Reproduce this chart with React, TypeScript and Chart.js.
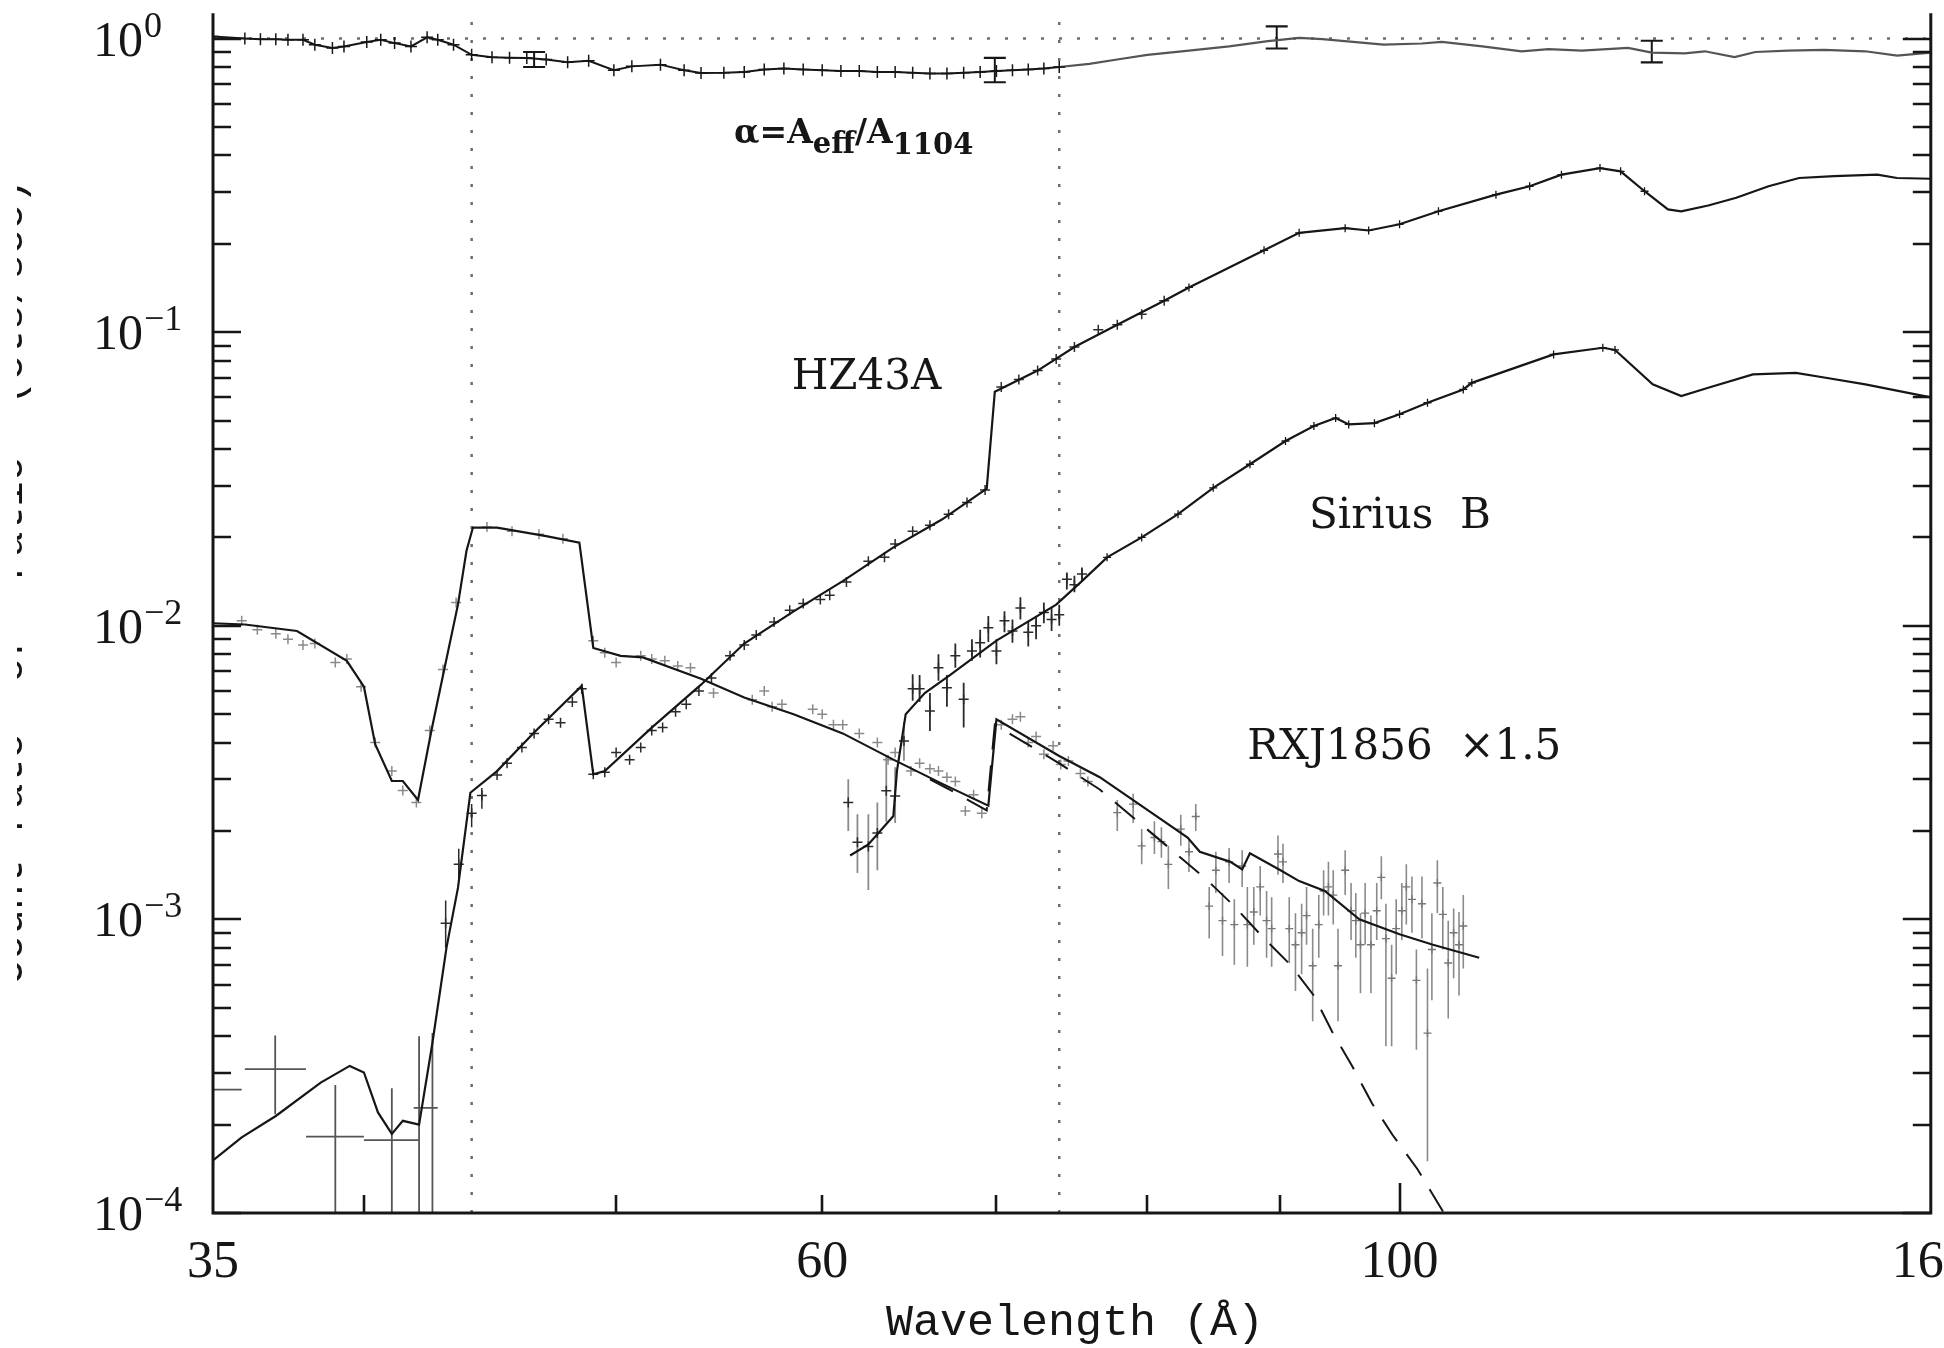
import React, { useEffect, useRef } from "react";
import { Chart, registerables } from "chart.js";

Chart.register(...registerables);

// ---------------- axes ----------------
const X_MIN = 35;
const X_MAX = 160;
const Y_MIN = 1e-4;
const Y_MAX = 1.22;
const xTickLabels = [35, 60, 100, 160];
const xShortTicks = [40, 50, 60, 70, 80, 90];
const xLongTicks = [100];
const yDecades = [1e-4, 1e-3, 1e-2, 1e-1, 1];
const yExponents = ["\u22124", "\u22123", "\u22122", "\u22121", "0"];
const refLinesX = [44, 74];
const unityY = 1;
const X_TITLE = "Wavelength (\u00C5)";
const Y_TITLE = "Count rate  or  ratio  (cts/sec)";

// ---------------- alpha = Aeff / A1104 ----------------
const alphaBinX = [35, 36.0, 36.5, 37.0, 37.4, 37.9, 38.3, 38.9, 39.3, 40.1, 40.6, 41.1, 41.7, 42.3, 42.7, 43.3, 44.0, 44.8, 45.5, 46.2, 47.0, 47.9, 48.8, 49.9, 50.7, 52.0, 53.1, 53.9, 55, 56, 57, 58, 59, 60, 61, 62, 63, 64, 65, 66, 67, 68, 69, 70, 71, 72, 73, 74];
const alphaBinY = [1.017, 1.0, 0.995, 0.995, 0.99, 0.99, 0.953, 0.929, 0.94, 0.973, 0.99, 0.965, 0.94, 1.01, 0.99, 0.953, 0.88, 0.863, 0.86, 0.858, 0.848, 0.83, 0.84, 0.78, 0.804, 0.815, 0.78, 0.763, 0.765, 0.77, 0.785, 0.79, 0.785, 0.78, 0.775, 0.775, 0.77, 0.77, 0.765, 0.76, 0.76, 0.765, 0.77, 0.775, 0.78, 0.785, 0.79, 0.80];
const alphaSmoothX = [74, 76, 78, 80, 83, 86, 89, 91.5, 93.4, 95.5, 98.6, 102, 103.8, 107.6, 111.4, 114.1, 117.5, 122.4, 125, 128.7, 131, 134.5, 137, 141, 145.6, 151, 155.3, 160];
const alphaSmoothY = [0.80, 0.82, 0.85, 0.88, 0.91, 0.94, 0.98, 1.005, 0.995, 0.978, 0.953, 0.962, 0.975, 0.94, 0.905, 0.92, 0.91, 0.929, 0.895, 0.89, 0.905, 0.865, 0.90, 0.91, 0.915, 0.905, 0.875, 0.895];
const alphaErrX = [46.5, 69.9, 89.7, 125.0];
const alphaErrLo = [0.80, 0.71, 0.925, 0.83];
const alphaErrHi = [0.90, 0.86, 1.10, 0.983];

// ---------------- HZ43A ----------------
const hzModelX = [35, 35.9, 37.0, 38.5, 39.5, 40.0, 40.5, 41.0, 41.4, 42.0, 42.5, 43.03, 43.47, 43.95, 45.0, 46.5, 48.5, 49.0, 49.5, 51.6, 53.9, 56.0, 58.5, 61.1, 63.9, 66.7, 69.4, 69.9, 72.6, 75.0, 77.9, 81.2, 83.0, 88.7, 91.5, 95.3, 97.3, 100, 103.5, 108.9, 112.2, 115.4, 119.4, 121.6, 124.2, 126.8, 128.3, 131.4, 134.7, 138.6, 142.4, 146.9, 152.6, 155.3, 160];
const hzModelY = [1.51e-4, 1.81e-4, 2.14e-4, 2.78e-4, 3.17e-4, 3.01e-4, 2.2e-4, 1.86e-4, 2.06e-4, 2.0e-4, 3.8e-4, 8.0e-4, 1.28e-3, 2.7e-3, 3.2e-3, 4.33e-3, 6.24e-3, 3.12e-3, 3.2e-3, 4.5e-3, 6.3e-3, 8.7e-3, 1.12e-2, 1.42e-2, 1.85e-2, 2.3e-2, 2.93e-2, 6.27e-2, 7.4e-2, 8.9e-2, 0.106, 0.128, 0.142, 0.19, 0.218, 0.226, 0.222, 0.233, 0.258, 0.294, 0.314, 0.344, 0.362, 0.353, 0.302, 0.262, 0.258, 0.27, 0.287, 0.314, 0.335, 0.34, 0.344, 0.335, 0.333];
const hzDataX = [43.0, 43.5, 44.0, 44.4, 45.0, 45.4, 46.0, 46.5, 47.1, 47.6, 48.1, 48.5, 49.0, 49.5, 50.0, 50.6, 51.1, 51.6, 52.1, 52.7, 53.2, 53.8, 54.4, 55.3, 56.0, 56.6, 57.5, 58.3, 59.0, 59.9, 60.4, 61.3, 62.5, 63.4, 64.0, 65.0, 66.0, 67.1, 68.2, 69.3, 70.3, 71.4, 72.6, 73.8, 75.0, 76.6, 77.9, 79.6, 81.2];
const hzDataY = [9.7e-4, 1.54e-3, 2.3e-3, 2.64e-3, 3.1e-3, 3.4e-3, 3.85e-3, 4.3e-3, 4.8e-3, 4.67e-3, 5.5e-3, 6.1e-3, 3.12e-3, 3.17e-3, 3.7e-3, 3.5e-3, 3.85e-3, 4.4e-3, 4.5e-3, 5.1e-3, 5.4e-3, 6.0e-3, 6.64e-3, 7.9e-3, 8.6e-3, 9.3e-3, 1.03e-2, 1.13e-2, 1.19e-2, 1.23e-2, 1.27e-2, 1.41e-2, 1.66e-2, 1.71e-2, 1.9e-2, 2.1e-2, 2.2e-2, 2.4e-2, 2.63e-2, 2.9e-2, 6.5e-2, 6.9e-2, 7.4e-2, 8.1e-2, 8.9e-2, 0.102, 0.106, 0.115, 0.128];
const hzBarX = [43.0, 43.5, 44.0, 44.4];
const hzBarLo = [8.0e-4, 1.37e-3, 2.06e-3, 2.38e-3];
const hzBarHi = [1.16e-3, 1.74e-3, 2.47e-3, 2.8e-3];
const lowBinX = [35.45, 36.98, 39.0, 41.0, 42.0, 42.5];
const lowBinY = [2.63e-4, 3.09e-4, 1.82e-4, 1.77e-4, 2.0e-4, 2.28e-4];
const lowBinXLo = [35.0, 36.0, 38.0, 40.0, 42.0, 41.8];
const lowBinXHi = [35.9, 38.0, 40.0, 42.0, 42.0, 42.7];
const lowBinYLo = [2.63e-4, 2.17e-4, 1e-4, 1e-4, 1e-4, 1e-4];
const lowBinYHi = [2.63e-4, 4.02e-4, 2.73e-4, 2.66e-4, 4.0e-4, 4.1e-4];

// ---------------- Sirius B ----------------
const sbModelX = [61.5, 62.5, 63.9, 64.1, 64.6, 65.7, 67.2, 70.0, 73.8, 75.5, 77.2, 79.6, 82.2, 84.8, 87.6, 90.4, 92.7, 94.5, 95.6, 97.8, 100, 102.5, 105.8, 106.6, 114.6, 119.7, 121, 125.1, 128.3, 131.4, 136.7, 142, 145.6, 151, 160];
const sbModelY = [1.65e-3, 1.8e-3, 2.25e-3, 3.2e-3, 5.0e-3, 5.9e-3, 6.8e-3, 8.9e-3, 1.18e-2, 1.42e-2, 1.71e-2, 2.0e-2, 2.4e-2, 2.95e-2, 3.55e-2, 4.26e-2, 4.79e-2, 5.1e-2, 4.85e-2, 4.9e-2, 5.25e-2, 5.75e-2, 6.38e-2, 6.72e-2, 8.4e-2, 8.85e-2, 8.7e-2, 6.64e-2, 6.06e-2, 6.47e-2, 7.18e-2, 7.27e-2, 7.01e-2, 6.64e-2, 6.0e-2];
const sbDataX = [61.4, 61.9, 62.5, 63.0, 63.5, 64.0, 64.5, 65.0, 65.4, 66.0, 66.5, 67.0, 67.5, 68.0, 68.5, 69.0, 69.5, 70.0, 70.5, 71.0, 71.5, 72.0, 72.5, 73.0, 73.5, 74.0, 74.5, 75.0, 75.5];
const sbDataY = [2.5e-3, 1.83e-3, 1.77e-3, 1.97e-3, 2.74e-3, 2.63e-3, 4.05e-3, 6.1e-3, 6.1e-3, 5.13e-3, 7.2e-3, 6.15e-3, 7.9e-3, 5.62e-3, 8.2e-3, 8.75e-3, 9.85e-3, 8.2e-3, 1.04e-2, 9.6e-3, 1.15e-2, 9.5e-3, 1.0e-2, 1.11e-2, 1.05e-2, 1.09e-2, 1.44e-2, 1.38e-2, 1.5e-2];
const sbDataLo = [2.0e-3, 1.44e-3, 1.26e-3, 1.47e-3, 2.15e-3, 2.13e-3, 3.47e-3, 5.55e-3, 5.5e-3, 4.38e-3, 6.5e-3, 5.3e-3, 7.2e-3, 4.5e-3, 7.6e-3, 7.8e-3, 8.8e-3, 7.4e-3, 9.5e-3, 8.75e-3, 1.05e-2, 8.5e-3, 9.0e-3, 1.02e-2, 9.6e-3, 1.0e-2, 1.33e-2, 1.30e-2, 1.42e-2];
const sbDataHi = [3.0e-3, 2.28e-3, 2.28e-3, 2.5e-3, 3.6e-3, 3.3e-3, 4.7e-3, 6.84e-3, 6.8e-3, 5.9e-3, 8.0e-3, 6.8e-3, 8.7e-3, 6.4e-3, 9.0e-3, 9.7e-3, 1.08e-2, 9.0e-3, 1.12e-2, 1.05e-2, 1.25e-2, 1.04e-2, 1.08e-2, 1.2e-2, 1.15e-2, 1.18e-2, 1.52e-2, 1.48e-2, 1.58e-2];

// ---------------- RXJ1856 x1.5 ----------------
const rxModelX = [35, 36.0, 37.7, 39.4, 40.0, 40.4, 41.0, 41.4, 41.96, 42.46, 42.96, 43.47, 43.8, 44.05, 45.0, 47.0, 48.4, 49.0, 50.2, 51.2, 53.9, 56.0, 58.5, 61.1, 63.9, 66.7, 69.5, 70.0, 74.0, 76.7, 82.9, 83.8, 86.1, 87.0, 87.6, 90.0, 91.5, 93.6, 96.5, 100, 103, 107.3];
const rxModelY = [0.0102, 0.0101, 0.0096, 0.0076, 0.0062, 0.00395, 0.00296, 0.00296, 0.00255, 0.00439, 0.0072, 0.0118, 0.018, 0.0216, 0.0216, 0.0202, 0.0192, 0.0084, 0.0079, 0.0078, 0.0066, 0.0057, 0.005, 0.0043, 0.0035, 0.0029, 0.00244, 0.0048, 0.0036, 0.00305, 0.0019, 0.0017, 0.00157, 0.00148, 0.00168, 0.00147, 0.00135, 0.00125, 0.001, 0.00089, 0.00082, 0.00074];
const rxDashX = [66.0, 67.5, 69.4, 69.9, 74.0, 76.7, 79.6, 84.2, 86.3, 88.5, 90.8, 92.7, 94.2, 95.9, 97.6, 99.4, 101.6, 104.0];
const rxDashY = [0.0030, 0.0027, 0.00235, 0.0046, 0.0034, 0.00277, 0.0021, 0.00138, 0.00112, 0.00088, 0.0007, 0.00055, 0.000415, 0.000316, 0.000236, 0.000184, 0.000141, 0.0001];
const rxPtX = [35.9, 36.4, 37.0, 37.4, 37.9, 38.3, 39.0, 39.4, 39.9, 40.4, 41.0, 41.4, 41.9, 42.4, 42.9, 43.4, 44.6, 45.6, 46.7, 47.7, 49.0, 49.5, 50.0, 51.1, 51.6, 52.2, 52.8, 53.4, 54.5, 56.4, 57.0, 57.4, 57.9, 59.5, 60.0, 60.6, 61.1, 62.0, 63.0, 63.6, 64.0, 64.9, 65.4, 66.0, 66.5, 67.0, 67.5, 68.1, 68.6, 69.1, 70.3, 71.0, 71.5, 72.0, 72.5, 73.0, 73.6, 74.1, 74.6, 75.4, 75.9];
const rxPtY = [0.0104, 0.0097, 0.0094, 0.009, 0.0086, 0.0087, 0.0075, 0.0077, 0.0062, 0.004, 0.0032, 0.00275, 0.0025, 0.0044, 0.0071, 0.012, 0.0217, 0.021, 0.0205, 0.0198, 0.0089, 0.0081, 0.0075, 0.0079, 0.0077, 0.0076, 0.0073, 0.0072, 0.0059, 0.0056, 0.006, 0.0053, 0.0054, 0.0052, 0.005, 0.0046, 0.0046, 0.0043, 0.004, 0.0035, 0.0037, 0.0032, 0.0034, 0.00326, 0.0032, 0.00305, 0.00295, 0.00234, 0.00266, 0.0023, 0.0046, 0.0048, 0.0049, 0.004, 0.0042, 0.00365, 0.0039, 0.00337, 0.00346, 0.00314, 0.00295];
const rxBarX = [77.9, 79.0, 79.6, 80.5, 81.0, 81.5, 82.4, 83.0, 83.5, 84.5, 85.0, 85.5, 86.0, 86.4, 87.0, 87.4, 87.9, 88.4, 88.9, 89.3, 89.8, 90.2, 90.7, 91.2, 91.7, 92.1, 92.6, 93.1, 93.5, 93.9, 94.3, 94.7, 95.3, 95.8, 96.2, 96.6, 97.0, 97.5, 98.0, 98.4, 98.8, 99.3, 99.7, 100.2, 100.6, 101.1, 101.5, 102.0, 102.5, 102.9, 103.4, 103.9, 104.4, 104.9, 105.4, 105.8];
const rxBarY = [2.31e-3, 2.47e-3, 1.78e-3, 1.9e-3, 1.84e-3, 1.54e-3, 2.03e-3, 1.7e-3, 2.24e-3, 1.11e-3, 1.47e-3, 9.9e-4, 1.57e-3, 9.6e-4, 1.52e-3, 9.6e-4, 1.06e-3, 1.29e-3, 9.9e-4, 9.3e-4, 1.67e-3, 1.57e-3, 9.3e-4, 8.2e-4, 9.0e-4, 1.03e-3, 6.95e-4, 9.6e-4, 1.25e-3, 1.29e-3, 1.21e-3, 6.95e-4, 1.47e-3, 1.07e-3, 9.9e-4, 8.2e-4, 1.05e-3, 8.2e-4, 1.07e-3, 1.39e-3, 8.6e-4, 6.3e-4, 9.3e-4, 1.07e-3, 1.29e-3, 1.17e-3, 6.2e-4, 1.13e-3, 4.1e-4, 7.9e-4, 1.33e-3, 1.04e-3, 7.1e-4, 9.0e-4, 8.2e-4, 9.5e-4];
const rxBarLo = [2.0e-3, 2.13e-3, 1.54e-3, 1.67e-3, 1.62e-3, 1.27e-3, 1.78e-3, 1.45e-3, 2.0e-3, 8.6e-4, 1.23e-3, 7.5e-4, 1.33e-3, 7.0e-4, 1.29e-3, 6.9e-4, 8.2e-4, 1.03e-3, 7.4e-4, 6.9e-4, 1.42e-3, 1.33e-3, 7.1e-4, 5.7e-4, 6.5e-4, 8.2e-4, 4.5e-4, 7.4e-4, 1.03e-3, 1.03e-3, 9.6e-4, 4.5e-4, 1.21e-3, 8.5e-4, 7.4e-4, 5.6e-4, 8.2e-4, 5.6e-4, 8.5e-4, 1.17e-3, 3.7e-4, 3.7e-4, 6.5e-4, 8.5e-4, 9.6e-4, 9.0e-4, 3.6e-4, 8.6e-4, 1.5e-4, 5.3e-4, 1.05e-3, 7.9e-4, 4.6e-4, 6.3e-4, 5.5e-4, 6.8e-4];
const rxBarHi = [2.55e-3, 2.68e-3, 2.03e-3, 2.16e-3, 2.06e-3, 1.78e-3, 2.27e-3, 1.87e-3, 2.47e-3, 1.29e-3, 1.70e-3, 1.23e-3, 1.75e-3, 1.17e-3, 1.72e-3, 1.29e-3, 1.29e-3, 1.52e-3, 1.25e-3, 1.19e-3, 1.93e-3, 1.81e-3, 1.19e-3, 1.05e-3, 1.13e-3, 1.29e-3, 9.3e-4, 1.21e-3, 1.47e-3, 1.57e-3, 1.47e-3, 9.3e-4, 1.72e-3, 1.33e-3, 1.23e-3, 1.05e-3, 1.33e-3, 1.03e-3, 1.33e-3, 1.64e-3, 1.13e-3, 8.2e-4, 1.17e-3, 1.33e-3, 1.54e-3, 1.40e-3, 7.9e-4, 1.40e-3, 6.8e-4, 1.05e-3, 1.59e-3, 1.29e-3, 9.9e-4, 1.09e-3, 1.06e-3, 1.21e-3];

// ---------------- helpers ----------------
type P = { x: number; y: number | null };
const pts = (xs: number[], ys: number[]): P[] => xs.map((x, i) => ({ x, y: ys[i] }));
const vbars = (xs: number[], lo: number[], hi: number[]): P[] =>
  xs.flatMap((x, i) => [{ x, y: lo[i] }, { x, y: hi[i] }, { x, y: null }]);
const hbars = (xlo: number[], xhi: number[], ys: number[]): P[] =>
  xlo.flatMap((x, i) => [{ x, y: ys[i] }, { x: xhi[i], y: ys[i] }, { x, y: null }]);

const BLACK = "#161616";
const DARK = "#2a2a2a";
const GRAY = "#8a8a8a";

const lineDs = (data: P[], color: string, width: number, extra: any = {}) => ({
  data,
  borderColor: color,
  borderWidth: width,
  pointRadius: 0,
  pointHoverRadius: 0,
  pointHitRadius: 0,
  fill: false,
  tension: 0,
  spanGaps: false,
  ...extra,
});
const crossDs = (data: P[], color: string, r: number, w: number) => ({
  data,
  showLine: false,
  pointStyle: "cross",
  pointRadius: r,
  pointHoverRadius: 0,
  pointHitRadius: 0,
  pointBorderColor: color,
  pointBorderWidth: w,
  borderColor: color,
});

function buildDatasets() {
  return [
    // models (top)
    lineDs(pts(hzModelX, hzModelY), BLACK, 2.2, {
      pointStyle: "cross",
      pointBorderColor: BLACK,
      pointBorderWidth: 1.3,
      pointRadius: (c: any) => (c.raw && c.raw.x > 82 && c.raw.x < 125 ? 4 : 0),
    }),
    lineDs(pts(sbModelX, sbModelY), BLACK, 2.2, {
      pointStyle: "cross",
      pointBorderColor: BLACK,
      pointBorderWidth: 1.3,
      pointRadius: (c: any) => (c.raw && c.raw.x > 76 && c.raw.x < 125 ? 4 : 0),
    }),
    lineDs(pts(rxModelX, rxModelY), BLACK, 2.2),
    lineDs(pts(rxDashX, rxDashY), BLACK, 2, { borderDash: [26, 16] }),
    // alpha
    lineDs(pts(alphaBinX, alphaBinY), BLACK, 2, {
      pointStyle: "cross",
      pointRadius: 6,
      pointBorderColor: BLACK,
      pointBorderWidth: 1.5,
    }),
    lineDs(pts(alphaSmoothX, alphaSmoothY), "#555", 2.2),
    lineDs(vbars(alphaErrX, alphaErrLo, alphaErrHi), BLACK, 2, {
      pointStyle: "line",
      pointRadius: 11,
      pointBorderColor: BLACK,
      pointBorderWidth: 2.2,
    }),
    // data
    crossDs(pts(hzDataX, hzDataY), DARK, 5, 1.5),
    lineDs(vbars(hzBarX, hzBarLo, hzBarHi), DARK, 1.5),
    lineDs(vbars(lowBinX, lowBinYLo, lowBinYHi), "#555", 1.8),
    lineDs(hbars(lowBinXLo, lowBinXHi, lowBinY), "#555", 1.8),
    crossDs(pts(sbDataX, sbDataY), DARK, 5, 1.5),
    lineDs(vbars(sbDataX, sbDataLo, sbDataHi), DARK, 1.8, {
      segment: { borderColor: (c: any) => (c.p0.parsed.x < 64.7 ? GRAY : DARK) },
    }),
    crossDs(pts(rxPtX, rxPtY), GRAY, 5, 1.5),
    crossDs(pts(rxBarX, rxBarY), "#777", 4, 1.4),
    lineDs(vbars(rxBarX, rxBarLo, rxBarHi), GRAY, 1.6),
    // reference dotted lines
    ...refLinesX.map((v) =>
      lineDs(pts([v, v], [Y_MIN, Y_MAX]), "#6e6e6e", 2.5, { borderDash: [3, 15] })
    ),
    lineDs(pts([X_MIN, X_MAX], [unityY, unityY]), "#6e6e6e", 2.5, { borderDash: [3, 15] }),
  ];
}

const frame = {
  id: "pgFrame",
  afterDraw(chart: any) {
    const { ctx, chartArea: a, scales } = chart;
    const x = scales.x;
    const y = scales.y;
    ctx.save();
    // frame lines
    ctx.strokeStyle = BLACK;
    ctx.lineWidth = 3;
    ctx.lineCap = "butt";
    ctx.beginPath();
    ctx.moveTo(a.left, a.top);
    ctx.lineTo(a.left, a.bottom);
    ctx.lineTo(a.right, a.bottom);
    ctx.lineTo(a.right, a.top);
    ctx.stroke();
    // y ticks (both sides, inward)
    ctx.lineWidth = 2.6;
    ctx.beginPath();
    for (const d of yDecades) {
      for (let m = 1; m < 10; m++) {
        const v = d * m;
        if (v > Y_MAX) break;
        const py = Math.round(y.getPixelForValue(v));
        const len = m === 1 ? 28 : 18;
        ctx.moveTo(a.left, py);
        ctx.lineTo(a.left + len, py);
        ctx.moveTo(a.right, py);
        ctx.lineTo(a.right - len, py);
      }
    }
    // x ticks
    for (const v of xShortTicks) {
      const px = Math.round(x.getPixelForValue(v));
      ctx.moveTo(px, a.bottom);
      ctx.lineTo(px, a.bottom - 18);
    }
    for (const v of xLongTicks) {
      const px = Math.round(x.getPixelForValue(v));
      ctx.moveTo(px, a.bottom);
      ctx.lineTo(px, a.bottom - 30);
    }
    ctx.stroke();

    // tick labels
    ctx.fillStyle = BLACK;
    ctx.textBaseline = "alphabetic";
    ctx.textAlign = "left";
    yDecades.forEach((v, i) => {
      const py = y.getPixelForValue(v);
      ctx.font = '50px "Liberation Serif"';
      ctx.fillText("10", 93, py + 17);
      const w = ctx.measureText("10").width;
      ctx.font = '36px "Liberation Serif"';
      ctx.fillText(yExponents[i], 93 + w + 1, py - 2);
    });
    ctx.textAlign = "center";
    ctx.font = '52px "Liberation Serif"';
    for (const v of xTickLabels) {
      ctx.fillText(String(v), x.getPixelForValue(v), a.bottom + 64);
    }
    // axis title
    ctx.font = '45px "Liberation Mono"';
    ctx.fillText(X_TITLE, 1075, 1335);

    // clipped y title (only its outer edge is visible, as in the cropped original)
    ctx.save();
    ctx.beginPath();
    ctx.rect(17, 0, 30, chart.height);
    ctx.clip();
    ctx.translate(22, 582);
    ctx.rotate(-Math.PI / 2);
    ctx.font = '42px "Liberation Mono"';
    ctx.textAlign = "center";
    ctx.fillText(Y_TITLE, 0, 0);
    ctx.restore();

    // annotations
    ctx.textAlign = "left";
    ctx.font = '42px "DejaVu Serif"';
    ctx.fillText("HZ43A", x.getPixelForValue(58.4), y.getPixelForValue(0.0638));
    ctx.fillText("Sirius  B", x.getPixelForValue(92.3), y.getPixelForValue(0.0215));
    ctx.fillText("RXJ1856  \u00D71.5", x.getPixelForValue(87.4), y.getPixelForValue(3.51e-3));

    // alpha label with subscripts
    let cx = x.getPixelForValue(55.5);
    const by = y.getPixelForValue(0.44);
    const seg = (t: string, f: string, dy: number) => {
      ctx.font = f;
      ctx.fillText(t, cx, by + dy);
      cx += ctx.measureText(t).width;
    };
    seg("\u03B1=A", 'bold 33px "DejaVu Serif"', 0);
    seg("eff", 'bold 29px "DejaVu Serif"', 10);
    seg("/A", 'bold 33px "DejaVu Serif"', 0);
    seg("1104", 'bold 29px "DejaVu Serif"', 11);
    ctx.restore();
  },
};

export default function App() {
  const ref = useRef<HTMLCanvasElement | null>(null);
  useEffect(() => {
    if (!ref.current) return;
    const chart = new Chart(ref.current, {
      type: "line",
      data: { datasets: buildDatasets() as any },
      options: {
        animation: false,
        responsive: false,
        devicePixelRatio: 1,
        events: [],
        layout: { padding: { left: 213, right: 12, top: 12, bottom: 135 } },
        plugins: { legend: { display: false }, tooltip: { enabled: false } },
        scales: {
          x: { type: "logarithmic", min: X_MIN, max: X_MAX, display: false },
          y: { type: "logarithmic", min: Y_MIN, max: Y_MAX, display: false },
        },
      } as any,
      plugins: [frame],
    });
    return () => chart.destroy();
  }, []);
  return (
    <div style={{ position: "fixed", left: 0, top: 0, width: 1944, height: 1348, background: "#fff" }}>
      <canvas ref={ref} width={1944} height={1348} style={{ display: "block" }} />
    </div>
  );
}
